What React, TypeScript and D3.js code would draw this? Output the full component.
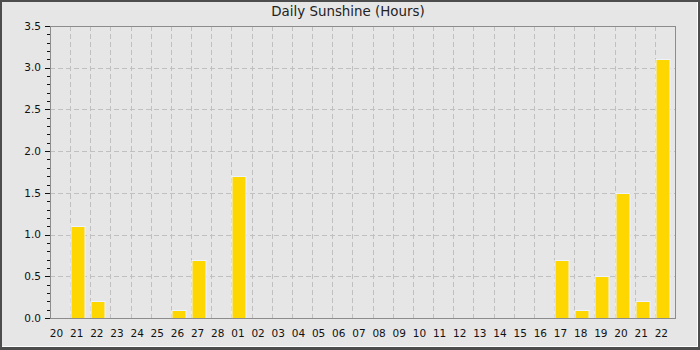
import React from "react";
import * as d3 from "d3";

const categories = ["20","21","22","23","24","25","26","27","28","01","02","03","04","05","06","07","08","09","10","11","12","13","14","15","16","17","18","19","20","21","22"];
const sunshine = [0,1.1,0.2,0,0,0,0.1,0.7,0,1.7,0,0,0,0,0,0,0,0,0,0,0,0,0,0,0,0.7,0.1,0.5,1.5,0.2,3.1];
const yTicks = [0,0.5,1.0,1.5,2.0,2.5,3.0,3.5];
const title = "Daily Sunshine (Hours)";

export default function App() {
  const W = 700, H = 350;
  const left = 50, right = 675, top = 26, bottom = 318;
  const keys = categories.map((c, i) => i);
  const x = d3.scaleBand<number>().domain(keys).range([left, right]).paddingInner(0).paddingOuter(0);
  const y = d3.scaleLinear().domain([0, 3.5]).range([bottom, top]);
  const bw = x.bandwidth();
  const minor = d3.range(0, 3.5001, 0.1).filter(v => Math.abs(v * 2 - Math.round(v * 2)) > 1e-6);
  const px = (v: number) => Math.round(v) + 0.5;
  const font = "'DejaVu Sans', sans-serif";
  return (
    <div style={{ position: "fixed", left: 0, top: 0 }}>
      <svg width={W} height={H} style={{ display: "block" }}>
        <rect x={0} y={0} width={W} height={H} fill="#4d4d4d" />
        <rect x={2} y={2} width={696} height={345} fill="#ffffff" />
        <rect x={2} y={2} width={695} height={344} fill="#e6e6e6" />
        <text x={348} y={16} textAnchor="middle" fontFamily={font} fontSize={13.4} fill="#222">{title}</text>
        {/* vertical grid */}
        {keys.slice(1).map(k => (
          <line key={"vg" + k} x1={px(x(k)!)} x2={px(x(k)!)} y1={top} y2={bottom} stroke="#c0c0c0" strokeDasharray="5,3" />
        ))}
        {/* horizontal grid */}
        {yTicks.slice(1, -1).map(t => (
          <line key={"hg" + t} x1={left} x2={right} y1={px(y(t))} y2={px(y(t))} stroke="#c0c0c0" strokeDasharray="5,3" />
        ))}
        {/* bars */}
        {sunshine.map((v, i) => v > 0 ? (
          <rect key={"b" + i} x={Math.round(x(i)!) + 1} y={Math.round(y(v)) + 0.5} width={Math.round(bw * 0.7)} height={Math.round(y(0)) - Math.round(y(v))} fill="#ffd700" stroke="#eef4ff" strokeWidth={1} />
        ) : null)}
        {/* frame */}
        <rect x={left + 0.5} y={top + 0.5} width={right - left} height={bottom - top} fill="none" stroke="#8c8c8c" />
        {/* y ticks */}
        {yTicks.map(t => (
          <g key={"yt" + t}>
            <line x1={45} x2={50} y1={px(y(t))} y2={px(y(t))} stroke="#111" />
            <text x={41} y={y(t)} dy="0.35em" textAnchor="end" fontFamily={font} fontSize={10.5} fill="#111">{t.toFixed(1)}</text>
          </g>
        ))}
        {minor.map(t => (
          <line key={"mt" + t} x1={47} x2={50} y1={px(y(t))} y2={px(y(t))} stroke="#111" />
        ))}
        {/* x labels */}
        {categories.map((c, i) => (
          <text key={"xl" + i} x={x(i)! + 6.5} y={337} textAnchor="middle" fontFamily={font} fontSize={10.5} fill="#111">{c}</text>
        ))}
      </svg>
    </div>
  );
}
